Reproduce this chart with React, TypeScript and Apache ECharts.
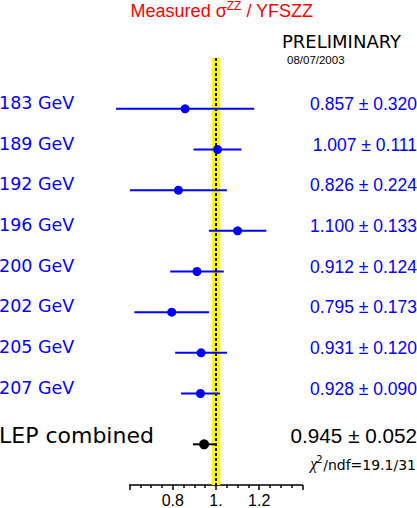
import React, { useEffect, useRef } from "react";
import * as echarts from "echarts";

// ---- data ----
const energies = ["183 GeV", "189 GeV", "192 GeV", "196 GeV", "200 GeV", "202 GeV", "205 GeV", "207 GeV"];
const ratios = [0.857, 1.007, 0.826, 1.1, 0.912, 0.795, 0.931, 0.928];
const errors = [0.32, 0.111, 0.224, 0.133, 0.124, 0.173, 0.12, 0.09];
const rowPositions = [0, 1, 2, 3, 4, 5, 6, 7];
const combinedLabels = ["LEP combined"];
const combinedRatios = [0.945];
const combinedErrors = [0.052];
const combinedPositions = [8.25];
const theoryBand = [0.98, 1.02];
const referenceLine = [1.0];
const xTicks = [0.6, 0.8, 1.0, 1.2, 1.4];
const xTickLabels = ["", "0.8", "1.", "1.2", ""];
const chi2Text = ["19.1", "31"];
const titleParts = ["Measured σ", "ZZ", " / YFSZZ"];
const preliminary = "PRELIMINARY";
const dateText = "08/07/2003";

const BLUE = "#0000ff";
const SANS = "'Liberation Sans', Arial, sans-serif";
const GEO = "'DejaVu Sans', sans-serif";

let _ctx: CanvasRenderingContext2D | null = null;
function tw(text: string, font: string): number {
  if (!_ctx) _ctx = document.createElement("canvas").getContext("2d");
  if (!_ctx) return text.length * 8;
  _ctx.font = font;
  return _ctx.measureText(text).width;
}

function fmt(v: number) {
  return v.toFixed(3);
}

export default function App() {
  const ref = useRef<HTMLDivElement>(null);
  useEffect(() => {
    if (!ref.current) return;
    const chart = echarts.init(ref.current, undefined, { renderer: "svg" });

    const measData = ratios.map((v, i) => [v, errors[i], rowPositions[i], i]);
    const combData = combinedRatios.map((v, i) => [v, combinedErrors[i], combinedPositions[i], i]);

    // title layout
    const tFontBig = `18px ${SANS}`;
    const tFontSmall = `12px ${SANS}`;
    const w0 = tw(titleParts[0], tFontBig);
    const w1 = tw(titleParts[1], tFontSmall);
    const w2 = tw(titleParts[2], tFontBig);
    const tx0 = 222 - (w0 + w1 + w2) / 2;

    // chi2 layout (right aligned at 416)
    const chiRest = `/ndf=${chi2Text[0]}/${chi2Text[1]}`;
    const cRestW = tw(chiRest, `14px ${GEO}`);
    const cSupW = tw("2", `10px ${GEO}`);
    const cChiW = tw("χ", `italic 16px 'Liberation Serif', serif`);
    const cRight = 416;
    const cRestX = cRight - cRestW;
    const cSupX = cRestX - cSupW - 0.5;
    const cChiX = cSupX - cChiW + 1;

    const option: any = {
      animation: false,
      grid: { left: 129.6, right: 114.6, top: 58, bottom: 21, containLabel: false },
      xAxis: {
        type: "value",
        position: "bottom",
        min: xTicks[0],
        max: xTicks[xTicks.length - 1],
        interval: 0.2,
        axisLine: { show: true, onZero: false, lineStyle: { color: "#000", width: 1.5 } },
        axisTick: { show: true, length: 5, lineStyle: { color: "#000", width: 1.5 } },
        minorTick: { show: true, splitNumber: 4, length: 3, lineStyle: { color: "#000", width: 1.5 } },
        splitLine: { show: false },
        axisLabel: {
          color: "#000",
          fontSize: 16,
          fontFamily: SANS,
          margin: 7,
          formatter: (v: number) => {
            for (let i = 0; i < xTicks.length; i++) {
              if (Math.abs(v - xTicks[i]) < 1e-6) return xTickLabels[i];
            }
            return "";
          },
        },
      },
      yAxis: { type: "value", inverse: true, min: -1.25, max: 9.25, show: false },
      graphic: [
        { type: "text", x: tx0, y: 11, style: { text: titleParts[0], fill: "#ff0000", font: tFontBig, verticalAlign: "middle", align: "left" } },
        { type: "text", x: tx0 + w0, y: 5.5, style: { text: titleParts[1], fill: "#ff0000", font: tFontSmall, verticalAlign: "middle", align: "left" } },
        { type: "text", x: tx0 + w0 + w1, y: 11, style: { text: titleParts[2], fill: "#ff0000", font: tFontBig, verticalAlign: "middle", align: "left" } },
        { type: "text", x: 282, y: 41.5, style: { text: preliminary, fill: "#000", font: `18px ${GEO}`, verticalAlign: "middle", align: "left" } },
        { type: "text", x: 287, y: 60, style: { text: dateText, fill: "#000", font: `11.5px ${SANS}`, verticalAlign: "middle", align: "left" } },
        { type: "text", x: cChiX, y: 463, style: { text: "χ", fill: "#000", font: `italic 16px 'Liberation Serif', serif`, verticalAlign: "middle", align: "left" } },
        { type: "text", x: cSupX, y: 459, style: { text: "2", fill: "#000", font: `10px ${GEO}`, verticalAlign: "middle", align: "left" } },
        { type: "text", x: cRestX, y: 464.5, style: { text: chiRest, fill: "#000", font: `14px ${GEO}`, verticalAlign: "middle", align: "left" } },
      ],
      series: [
        {
          type: "custom",
          z: 1,
          clip: false,
          data: [[theoryBand[0], theoryBand[1], referenceLine[0]]],
          renderItem: (params: any, api: any) => {
            const a = api.coord([api.value(0), -1.25]);
            const b = api.coord([api.value(1), 9.25]);
            const top = api.coord([api.value(2), -1.25]);
            const bot = api.coord([api.value(2), 9.25]);
            return {
              type: "group",
              children: [
                { type: "rect", shape: { x: a[0], y: a[1], width: b[0] - a[0], height: b[1] - a[1] }, style: { fill: "#ffff00" } },
                { type: "line", shape: { x1: top[0], y1: top[1], x2: bot[0], y2: bot[1] }, style: { stroke: "#000", lineWidth: 2, lineDash: [3, 2] } },
              ],
            };
          },
        },
        {
          type: "custom",
          z: 3,
          clip: false,
          data: measData,
          renderItem: (params: any, api: any) => {
            const v = api.value(0), e = api.value(1), p = api.value(2);
            const idx = params.dataIndex;
            const lo = api.coord([v - e, p]);
            const hi = api.coord([v + e, p]);
            const c = api.coord([v, p]);
            return {
              type: "group",
              children: [
                { type: "line", shape: { x1: lo[0], y1: lo[1], x2: hi[0], y2: hi[1] }, style: { stroke: BLUE, lineWidth: 2 } },
                { type: "circle", shape: { cx: c[0], cy: c[1], r: 4.5 }, style: { fill: BLUE } },
                { type: "text", x: -1, y: c[1] - 6, style: { text: energies[idx], fill: BLUE, font: `17.5px ${GEO}`, align: "left", verticalAlign: "middle" } },
                { type: "text", x: 417, y: c[1] - 5, style: { text: `${fmt(v)} ± ${fmt(e)}`, fill: BLUE, font: `17.5px ${SANS}`, align: "right", verticalAlign: "middle" } },
              ],
            };
          },
        },
        {
          type: "custom",
          z: 3,
          clip: false,
          data: combData,
          renderItem: (params: any, api: any) => {
            const v = api.value(0), e = api.value(1), p = api.value(2);
            const idx = params.dataIndex;
            const lo = api.coord([v - e, p]);
            const hi = api.coord([v + e, p]);
            const c = api.coord([v, p]);
            return {
              type: "group",
              children: [
                { type: "line", shape: { x1: lo[0], y1: lo[1], x2: hi[0], y2: hi[1] }, style: { stroke: "#000", lineWidth: 2 } },
                { type: "circle", shape: { cx: c[0], cy: c[1], r: 5 }, style: { fill: "#000" } },
                { type: "text", x: -1, y: c[1] - 9, style: { text: combinedLabels[idx], fill: "#000", font: `22px ${GEO}`, align: "left", verticalAlign: "middle" } },
                { type: "text", x: 417, y: c[1] - 9, style: { text: `${fmt(v)} ± ${fmt(e)}`, fill: "#000", font: `20.7px ${SANS}`, align: "right", verticalAlign: "middle" } },
              ],
            };
          },
        },
      ],
    };
    chart.setOption(option);
    return () => chart.dispose();
  }, []);

  return (
    <div
      ref={ref}
      style={{ position: "fixed", left: 0, top: 0, width: 417, height: 508, background: "#fff" }}
    />
  );
}
